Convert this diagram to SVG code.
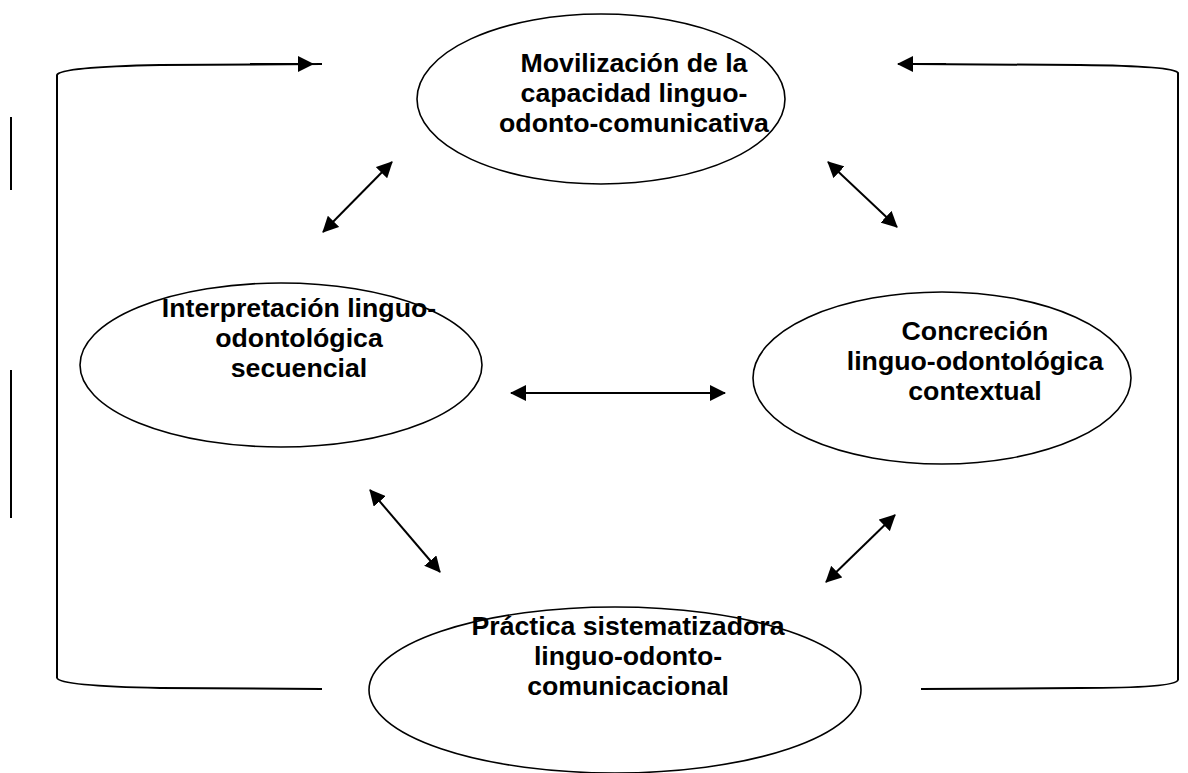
<svg xmlns="http://www.w3.org/2000/svg" width="1188" height="773" viewBox="0 0 1188 773">
<style>
.node ellipse{fill:#fff;stroke:#000;stroke-width:1.6}
.node text{font-family:"Liberation Sans",Arial,sans-serif;font-weight:bold;font-size:26.7px;text-anchor:middle;fill:#000}
.conn{fill:none;stroke:#000;stroke-width:2}
</style>
<defs>
<marker id="ah" viewBox="0 0 16 16" refX="15" refY="8" markerWidth="16" markerHeight="16" markerUnits="userSpaceOnUse" orient="auto-start-reverse">
<path d="M0,0 L16,8 L0,16 Z" fill="#000"/>
</marker>
</defs>
<rect width="1188" height="773" fill="#fff"/>
<g id="connectors">
<path class="conn" d="M57,678 L57,75 Q60,67 160,65 L322,64"/>
<path class="conn" d="M57,678 Q60,686 160,688 L322,689"/>
<line class="conn" x1="250" y1="64" x2="313" y2="64" marker-end="url(#ah)"/>
<path class="conn" d="M1178,680 L1178,73 Q1175,66 1080,65 L913,64"/>
<path class="conn" d="M1178,680 Q1175,688 1080,688 L921,689"/>
<line class="conn" x1="946" y1="64" x2="898" y2="64" marker-end="url(#ah)" stroke-width="3"/>
<line class="conn" x1="323" y1="232" x2="392" y2="162" marker-start="url(#ah)" marker-end="url(#ah)"/>
<line class="conn" x1="828" y1="162" x2="897" y2="227" marker-start="url(#ah)" marker-end="url(#ah)"/>
<line class="conn" x1="511" y1="393" x2="725" y2="393" marker-start="url(#ah)" marker-end="url(#ah)"/>
<line class="conn" x1="370" y1="490" x2="440" y2="572" marker-start="url(#ah)" marker-end="url(#ah)"/>
<line class="conn" x1="826" y1="582" x2="895" y2="515" marker-start="url(#ah)" marker-end="url(#ah)"/>
<line class="conn" x1="11" y1="117" x2="11" y2="190"/>
<line class="conn" x1="11" y1="370" x2="11" y2="518"/>
</g>
<g id="node-movilizacion" class="node">
<ellipse cx="601" cy="99" rx="184" ry="85"/>
<text x="634" y="72">Movilización de la</text>
<text x="634" y="102">capacidad linguo-</text>
<text x="634" y="132">odonto-comunicativa</text>
</g>
<g id="node-interpretacion" class="node">
<ellipse cx="281" cy="365" rx="201" ry="82"/>
<text x="299" y="317">Interpretación linguo-</text>
<text x="299" y="347">odontológica</text>
<text x="299" y="377">secuencial</text>
</g>
<g id="node-concrecion" class="node">
<ellipse cx="942" cy="378" rx="189" ry="86"/>
<text x="975" y="340">Concreción</text>
<text x="975" y="370">linguo-odontológica</text>
<text x="975" y="400">contextual</text>
</g>
<g id="node-practica" class="node">
<ellipse cx="615" cy="690" rx="246" ry="83"/>
<text x="628" y="635">Práctica sistematizadora</text>
<text x="628" y="665">linguo-odonto-</text>
<text x="628" y="695">comunicacional</text>
</g>
</svg>
